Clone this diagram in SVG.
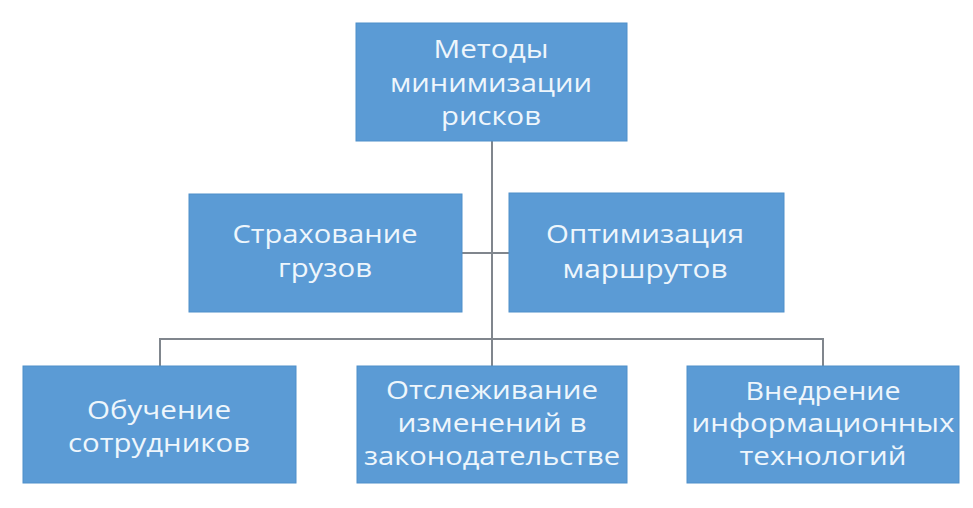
<svg xmlns="http://www.w3.org/2000/svg" width="973" height="508" viewBox="0 0 973 508">
<style>
.box{fill:#5b9bd5;stroke:#4f8fca;stroke-width:1}
.t{font-family:"Open Sans","Liberation Sans",sans-serif;font-size:25px;fill:#eef6fc;text-anchor:middle;lengthAdjust:spacingAndGlyphs}
.c{stroke:#80868d;stroke-width:2;fill:none}
</style>
<rect width="973" height="508" fill="#ffffff"/>
<g id="connectors">
<path class="c" d="M492 141V366"/>
<path class="c" d="M462 253H509"/>
<path class="c" d="M160 366V339H823V366"/>
</g>
<g id="n-root">
<rect class="box" x="356" y="23" width="271" height="118"/>
<text class="t" x="491" y="58" textLength="115" lengthAdjust="spacingAndGlyphs">Методы</text>
<text class="t" x="491" y="92" textLength="202" lengthAdjust="spacingAndGlyphs">минимизации</text>
<text class="t" x="491" y="125" textLength="100" lengthAdjust="spacingAndGlyphs">рисков</text>
</g>
<g id="n-insurance">
<rect class="box" x="189" y="194" width="273" height="118"/>
<text class="t" x="325" y="243" textLength="185" lengthAdjust="spacingAndGlyphs">Страхование</text>
<text class="t" x="325" y="277" textLength="94" lengthAdjust="spacingAndGlyphs">грузов</text>
</g>
<g id="n-routes">
<rect class="box" x="509" y="193" width="275" height="119"/>
<text class="t" x="645" y="243" textLength="198" lengthAdjust="spacingAndGlyphs">Оптимизация</text>
<text class="t" x="645" y="278" textLength="165" lengthAdjust="spacingAndGlyphs">маршрутов</text>
</g>
<g id="n-training">
<rect class="box" x="23" y="366" width="273" height="117"/>
<text class="t" x="159" y="419" textLength="144" lengthAdjust="spacingAndGlyphs">Обучение</text>
<text class="t" x="159" y="452" textLength="182" lengthAdjust="spacingAndGlyphs">сотрудников</text>
</g>
<g id="n-law">
<rect class="box" x="357" y="366" width="270" height="117"/>
<text class="t" x="492" y="399" textLength="212" lengthAdjust="spacingAndGlyphs">Отслеживание</text>
<text class="t" x="492" y="432" textLength="189" lengthAdjust="spacingAndGlyphs">изменений в</text>
<text class="t" x="492" y="465" textLength="256" lengthAdjust="spacingAndGlyphs">законодательстве</text>
</g>
<g id="n-it">
<rect class="box" x="687" y="366" width="272" height="117"/>
<text class="t" x="823" y="400" textLength="155" lengthAdjust="spacingAndGlyphs">Внедрение</text>
<text class="t" x="823" y="432" textLength="263" lengthAdjust="spacingAndGlyphs">информационных</text>
<text class="t" x="823" y="465" textLength="167" lengthAdjust="spacingAndGlyphs">технологий</text>
</g>
</svg>
